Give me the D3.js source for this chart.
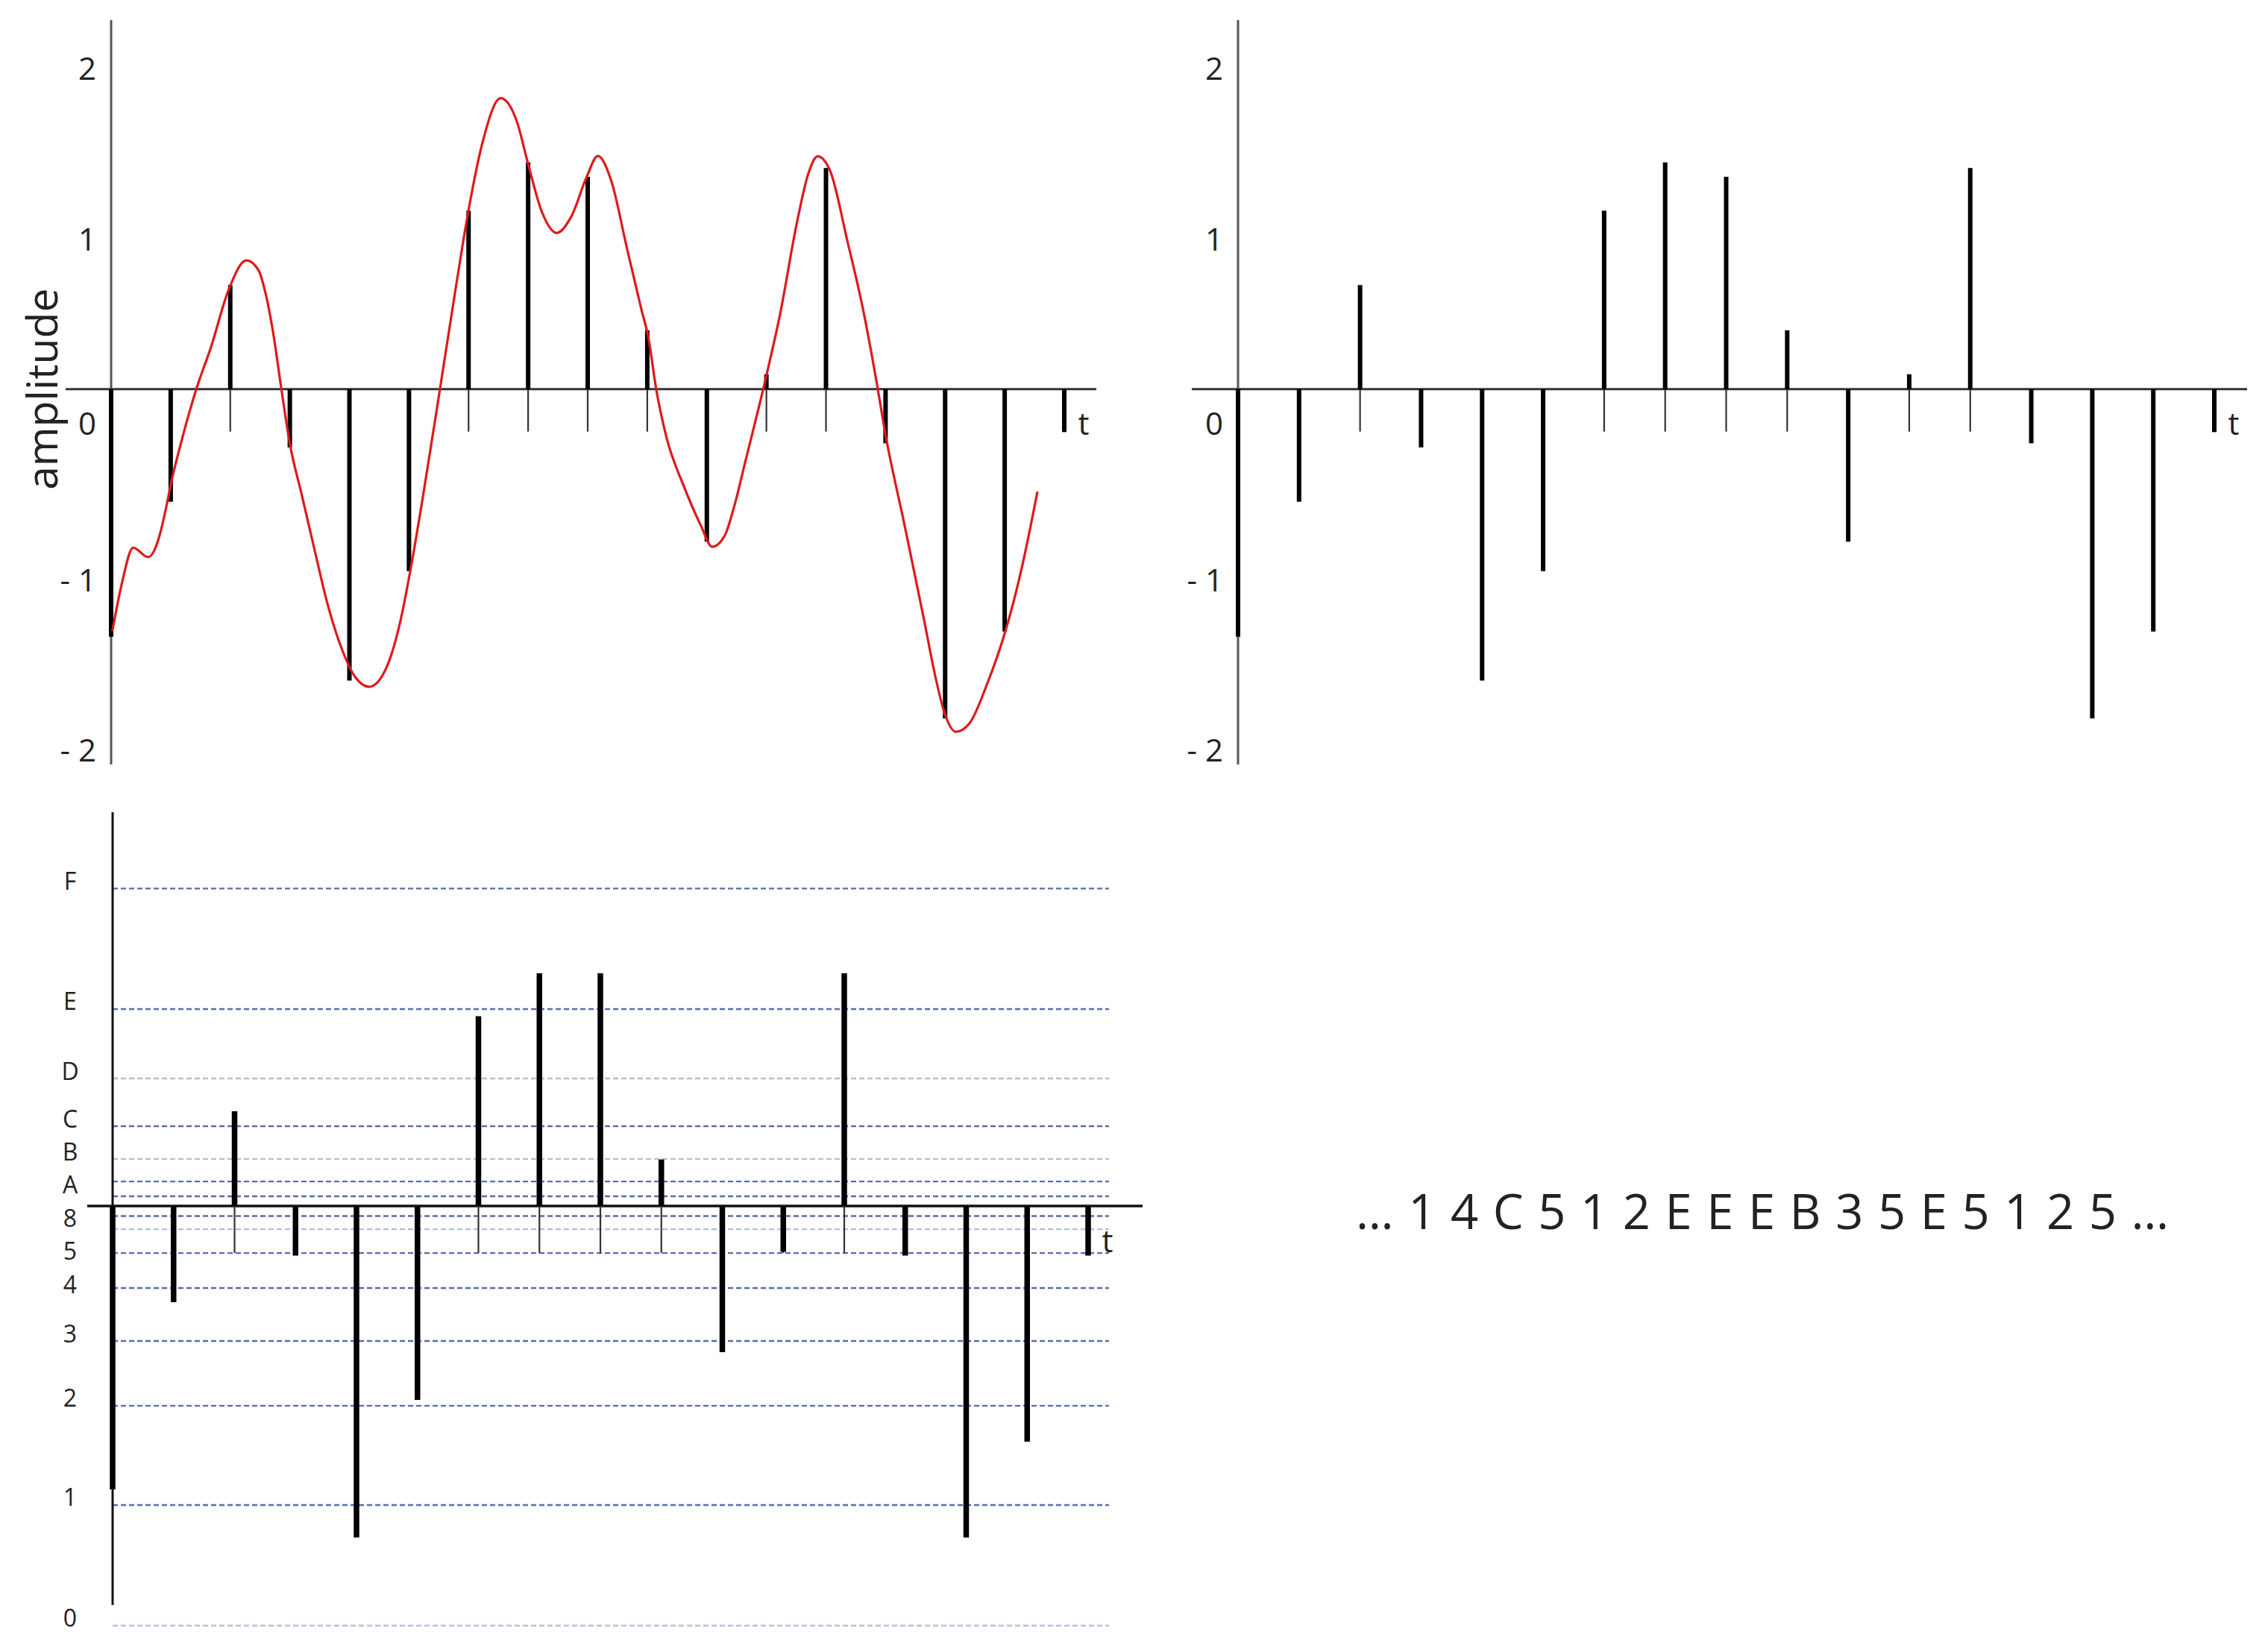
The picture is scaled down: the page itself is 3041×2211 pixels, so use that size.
<!DOCTYPE html>
<html>
<head>
<meta charset="utf-8">
<script src="https://cdn.jsdelivr.net/npm/d3@7"></script>
<style>
  html, body { margin: 0; padding: 0; background: #ffffff; }
  svg { display: block; }
  text { font-family: "Open Sans", "Noto Sans", "DejaVu Sans", sans-serif; fill: #222; }
</style>
</head>
<body>
<script>
// ---------------------------------------------------------------
// Data
// ---------------------------------------------------------------

// Sampled amplitudes at t = 0 … 16
const sampleValues = [-1.452, -0.661, 0.61, -0.342, -1.709, -1.068, 1.046, 1.33, 1.245,
                      0.345, -0.895, 0.087, 1.297, -0.318, -1.932, -1.422, -0.252];

// Continuous signal: time (in sample periods) and amplitude
const signalT = [0.02, 0.18, 0.37, 0.62, 0.72, 0.82, 0.92, 1.02, 1.14, 1.43, 1.68, 1.97, 2.27,
                 2.47, 2.60, 2.72, 2.85, 3.00, 3.20, 3.40, 3.64, 3.89, 4.10, 4.33, 4.60, 4.85,
                 5.02, 5.23, 5.52, 5.77, 6.00, 6.23, 6.54, 6.81, 7.00, 7.23, 7.48, 7.73, 7.98,
                 8.17, 8.40, 8.65, 8.90, 9.02, 9.15, 9.32, 9.61, 9.90, 10.09, 10.30, 10.45,
                 10.65, 10.98, 11.23, 11.52, 11.70, 11.86, 12.07, 12.36, 12.61, 12.86, 12.99,
                 13.32, 13.65, 13.82, 13.99, 14.18, 14.41, 14.70, 15.01, 15.28, 15.55];
const signalA = [-1.42, -1.14, -0.93, -0.985, -0.95, -0.85, -0.70, -0.53, -0.36, 0.00, 0.25, 0.58, 0.755,
                 0.70, 0.55, 0.33, 0.02, -0.32, -0.62, -0.92, -1.27, -1.54, -1.69, -1.746, -1.65, -1.37,
                 -1.07, -0.64, 0.00, 0.56, 1.05, 1.44, 1.706, 1.57, 1.32, 1.04, 0.916, 1.016, 1.242,
                 1.367, 1.217, 0.84, 0.47, 0.30, 0.00, -0.28, -0.566, -0.80, -0.925, -0.86, -0.70,
                 -0.42, 0.05, 0.44, 0.99, 1.26, 1.365, 1.28, 0.867, 0.488, 0.02, -0.25,
                 -0.80, -1.36, -1.66, -1.90, -2.01, -1.96, -1.734, -1.422, -1.059, -0.601];

// Amplitude axis ticks
const ampTicks = [2, 1, 0, -1, -2];
const ampTickLabels = ["2", "1", "0", "- 1", "- 2"];

// 4-bit code alphabet and the amplitude each code stands for
const codeNames  = ["0", "1", "2", "3", "4", "5", "6", "7", "8", "9", "A", "B", "C", "D", "E", "F"];
const codeLevels = [-2.461, -1.754, -1.172, -0.792, -0.481, -0.276, -0.136, -0.059, 0,
                    0.057, 0.144, 0.276, 0.468, 0.748, 1.155, 1.862];
// Codes whose names are printed beside the grid (top to bottom)
const labelledCodes = ["F", "E", "D", "C", "B", "A", "8", "5", "4", "3", "2", "1", "0"];
// Grid lines drawn in the paler tint
const paleCodes = ["D", "B", "6", "0"];

// Sample heights redrawn on the code grid
const codedValues = [-1.662, -0.564, 0.556, -0.291, -1.944, -1.137, 1.113, 1.365, 1.365,
                     0.273, -0.857, -0.269, 1.365, -0.291, -1.944, -1.382, -0.291];

// Resulting code stream
const codeStream = ["1", "4", "C", "5", "1", "2", "E", "E", "E", "B", "3", "5", "E", "5", "1", "2", "5"];

// ---------------------------------------------------------------
// Layout
// ---------------------------------------------------------------
const W = 3041, H = 2211;
const lastIndex = sampleValues.length - 1;

const panels = {
  analog:  { x0: 149,  x1: 1427, zeroY: 521.7, unit: 228.6, axisTop: 27,   axisBottom: 1025, lineFrom: 88,   lineTo: 1470, tickLen: 57, stemW: 6 },
  sampled: { x0: 1660, x1: 2969, zeroY: 521.7, unit: 228.6, axisTop: 27,   axisBottom: 1025, lineFrom: 1598, lineTo: 3013, tickLen: 57, stemW: 6 },
  coded:   { x0: 151,  x1: 1459, zeroY: 1617,  unit: 228.6, axisTop: 1089, axisBottom: 2152, lineFrom: 117,  lineTo: 1532, tickLen: 63, stemW: 7.5 }
};

const svg = d3.select("body").append("svg")
  .attr("width", W).attr("height", H)
  .attr("viewBox", `0 0 ${W} ${H}`);

function scalesFor(p) {
  const x = d3.scaleLinear().domain([0, lastIndex]).range([p.x0, p.x1]);
  const y = d3.scaleLinear().domain([0, 1]).range([p.zeroY, p.zeroY - p.unit]);
  return { x, y };
}

// Axes, time line, sample ticks and stems shared by all three panels
function drawStemPanel(p, values, opts) {
  const { x, y } = scalesFor(p);
  const g = svg.append("g");

  if (opts.before) opts.before(g, x, y);

  // vertical amplitude axis
  g.append("line")
    .attr("x1", x(0)).attr("x2", x(0))
    .attr("y1", p.axisTop).attr("y2", p.axisBottom)
    .attr("stroke", opts.axisColor || "#555").attr("stroke-width", 3);

  // time axis
  g.append("line")
    .attr("x1", p.lineFrom).attr("x2", p.lineTo)
    .attr("y1", y(0)).attr("y2", y(0))
    .attr("stroke", opts.zeroColor || "#333").attr("stroke-width", opts.zeroW || 3);

  // sample instants marked below the time axis
  g.selectAll("line.tick").data(d3.range(values.length)).join("line")
    .attr("class", "tick")
    .attr("x1", d => x(d)).attr("x2", d => x(d))
    .attr("y1", y(0)).attr("y2", y(0) + p.tickLen)
    .attr("stroke", "#333").attr("stroke-width", 2.2);

  // sample stems
  g.selectAll("line.stem").data(values).join("line")
    .attr("class", "stem")
    .attr("x1", (d, i) => x(i)).attr("x2", (d, i) => x(i))
    .attr("y1", y(0)).attr("y2", d => y(d))
    .attr("stroke", "#000").attr("stroke-width", p.stemW);

  // time label
  g.append("text")
    .attr("x", x(lastIndex) + 26).attr("y", y(0) + 45)
    .attr("text-anchor", "middle").attr("dominant-baseline", "central")
    .attr("font-size", 42)
    .text("t");

  return { g, x, y };
}

function drawAmplitudeLabels(g, x, y) {
  g.selectAll("text.amp").data(ampTicks).join("text")
    .attr("class", "amp")
    .attr("x", x(0) - 20)
    .attr("y", d => d === 0 ? y(0) + 45 : y(d) + 26)
    .attr("text-anchor", "end").attr("dominant-baseline", "central")
    .attr("font-size", 42)
    .text((d, i) => ampTickLabels[i]);
}

// ---- Panel 1: continuous signal with its samples ----
{
  const { g, x, y } = drawStemPanel(panels.analog, sampleValues, {});
  drawAmplitudeLabels(g, x, y);

  const line = d3.line()
    .x(d => x(d[0])).y(d => y(d[1]))
    .curve(d3.curveMonotoneX);
  g.append("path")
    .datum(d3.zip(signalT, signalA))
    .attr("d", line)
    .attr("fill", "none")
    .attr("stroke", "#dd1a1a")
    .attr("stroke-width", 3.2)
    .attr("stroke-linejoin", "round");

  g.append("text")
    .attr("transform", `translate(55, ${panels.analog.zeroY}) rotate(-90)`)
    .attr("text-anchor", "middle").attr("dominant-baseline", "central")
    .attr("font-size", 57)
    .text("amplitude");
}

// ---- Panel 2: samples only ----
{
  const { g, x, y } = drawStemPanel(panels.sampled, sampleValues, {});
  drawAmplitudeLabels(g, x, y);
}

// ---- Panel 3: samples on the 4-bit code grid ----
{
  const p = panels.coded;
  const codeFont = 32;
  drawStemPanel(p, codedValues, {
    axisColor: "#111",
    zeroColor: "#111",
    zeroW: 3.5,
    before: (g, x, y) => {
      const levels = codeNames.map((n, i) => ({ name: n, v: codeLevels[i] }))
        .filter(d => d.name !== "8");
      g.selectAll("line.level").data(levels).join("line")
        .attr("class", "level")
        .attr("x1", x(0)).attr("x2", 1487)
        .attr("y1", d => y(d.v)).attr("y2", d => y(d.v))
        .attr("stroke", d => paleCodes.includes(d.name) ? "#b4bcdc" : "#5b6bab")
        .attr("stroke-width", 2.4)
        .attr("stroke-dasharray", "7 4");

      // names sit just above their line; crowded ones are pushed down so they never collide
      const minGap = codeFont * 1.39;
      let prev = -Infinity;
      const placed = labelledCodes.map(name => {
        let cy = y(codeLevels[codeNames.indexOf(name)]) - 11;
        if (cy < prev + minGap) cy = prev + minGap;
        prev = cy;
        return { name, cy };
      });
      g.selectAll("text.code").data(placed).join("text")
        .attr("class", "code")
        .attr("x", 94)
        .attr("y", d => d.cy)
        .attr("text-anchor", "middle").attr("dominant-baseline", "central")
        .attr("font-size", codeFont)
        .text(d => d.name);
    }
  });
}

// ---- Code stream ----
svg.append("text")
  .attr("x", 1818).attr("y", 1648)
  .attr("font-size", 65)
  .attr("textLength", 1090)
  .attr("lengthAdjust", "spacing")
  .text("\u2026 " + codeStream.join(" ") + " \u2026");
</script>
</body>
</html>
